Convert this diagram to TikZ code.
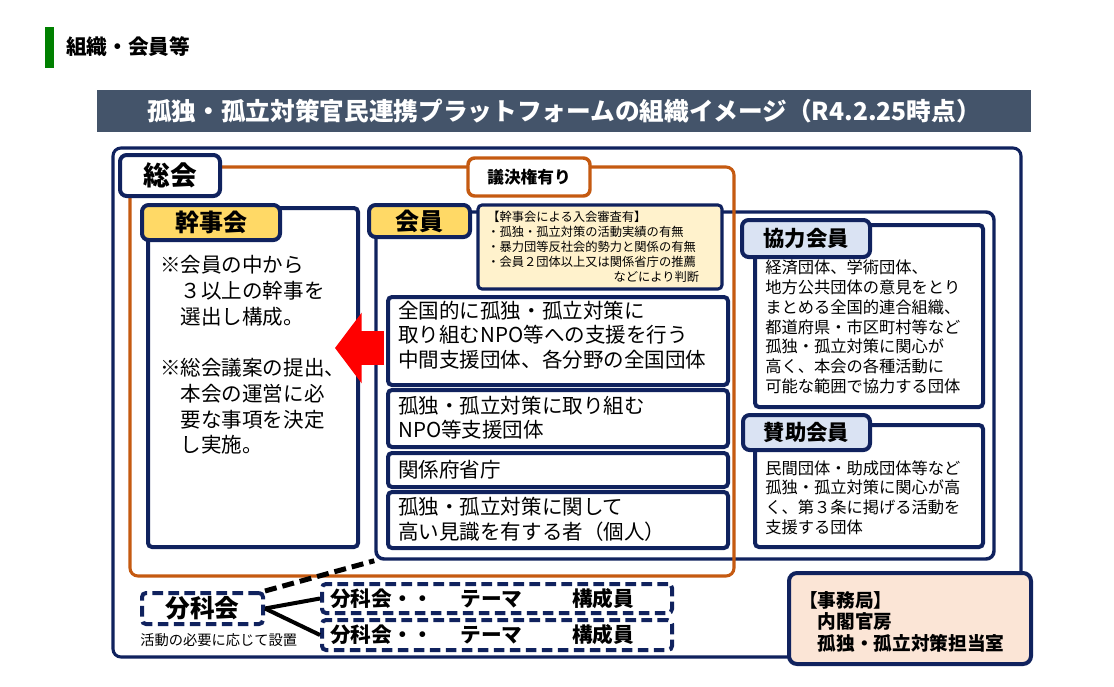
\documentclass[tikz,border=0pt]{standalone}
\usepackage{fontspec}
\setmainfont{Noto Sans CJK JP}
\usetikzlibrary{arrows.meta,positioning,fit}
\definecolor{orgNavy}{RGB}{16,34,94}
\definecolor{orgOrange}{RGB}{197,90,17}
\definecolor{orgYellow}{RGB}{255,217,102}
\definecolor{orgCream}{RGB}{255,242,204}
\definecolor{orgBlue}{RGB}{218,227,243}
\definecolor{orgPeach}{RGB}{251,229,214}
\definecolor{orgSlate}{RGB}{68,84,106}
\definecolor{orgGreen}{RGB}{0,128,0}
\definecolor{orgRed}{RGB}{255,0,0}
\newcommand{\fsz}[2]{\fontsize{#1pt}{#2pt}\selectfont}
\tikzset{
  framebox/.style={
    rectangle, rounded corners=6pt, draw=orgNavy, line width=2.3pt, inner sep=0pt},
  votebox/.style={framebox, draw=orgOrange},
  panel/.style={
    rectangle, rounded corners=3pt, draw=orgNavy, line width=3pt,
    fill=white, inner sep=0pt},
  labelbox/.style={panel, rounded corners=5pt},
  yellowtag/.style={labelbox, fill=orgYellow},
  bluetag/.style={labelbox, fill=orgBlue},
  tagtext/.style={inner sep=0pt, font=\bfseries\fsz{18}{22}},
  notebox/.style={panel, line width=2.3pt, fill=orgCream},
  dashbox/.style={panel, dash pattern=on 8pt off 4pt},
  bodytext/.style={anchor=west, align=left, inner sep=0pt, font=\fsz{15.4}{18.4}},
  sidetext/.style={bodytext, font=\fsz{12.2}{14.8}},
  notetext/.style={bodytext, font=\fsz{9.2}{11.25}},
  themetext/.style={bodytext, font=\bfseries\fsz{15.5}{18}},
  subline/.style={line width=3pt, draw=black},
  dashlink/.style={line width=3.75pt, draw=black, dash pattern=on 9pt off 4.5pt},
  bigarrow/.style={-{Triangle[length=20pt, width=52pt]}, line width=26pt, draw=orgRed}
}
\begin{document}
\begin{tikzpicture}[x=0.75pt, y=-0.75pt]
  \path[use as bounding box, fill=white] (0,0) rectangle (1114,686);

    % ---- heading -----------------------------------------------
    \node[fill=orgGreen, inner sep=0pt, fit={(45,27) (54,68)}] (hdbar) {};
    \node[anchor=west, inner sep=0pt, font=\bfseries\fsz{15.5}{18}] (hdtext) at (66,47) {組織・会員等};
    \node[fill=orgSlate, inner sep=0pt, fit={(97,90) (1031,132)}] (title) {};
    \node[tagtext, text=white, font=\bfseries\fsz{18.5}{22}] (titletxt) at (title)
          {孤独・孤立対策官民連携プラットフォームの組織イメージ（R4.2.25時点）};

    % ---- frames ------------------------------------------------
    \node[framebox, fit={(113,148) (1021,657)}] (frame) {};
    \node[framebox, line width=2.6pt, fit={(376,212) (994,559)}] (kaiin) {};
    \node[votebox, fit={(130,167) (734,576)}] (vote) {};
    \node[labelbox, fit={(120,155) (220,196)}] (sokai) {};
    \node[tagtext, font=\bfseries\fsz{20}{24}] (sokaitxt) at (sokai) {総会};
    \node[labelbox, draw=orgOrange, line width=2.6pt, fit={(468,158) (590,196)}] (giketsu) {};
    \node[tagtext, font=\bfseries\fsz{12.5}{15}] (giketsutxt) at (giketsu) {議決権有り};

    % ---- kanjikai (left) ---------------------------------------
    \node[panel, fit={(148,208) (358,547)}] (kanji) {};
    \node[yellowtag, fit={(142,205) (280,240)}] (kanjilbl) {};
    \node[tagtext] (kanjilbltxt) at (kanjilbl) {幹事会};
    \node[bodytext, font=\fsz{15.4}{19.3}] (kanjitxt) at (160,355)
      {※会員の中から\\\hspace*{1em}３以上の幹事を\\\hspace*{1em}選出し構成。\\[19.3pt]%
       ※総会議案の提出、\\\hspace*{1em}本会の運営に必\\\hspace*{1em}要な事項を決定\\\hspace*{1em}し実施。};

    % ---- kaiin (middle) ----------------------------------------
    \node[panel, fit={(388,297) (728,385)}] (mem1) {};
    \node[panel, fit={(388,390) (728,447)}] (mem2) {};
    \node[panel, fit={(388,453) (728,487)}] (mem3) {};
    \node[panel, fit={(388,492) (728,548)}] (mem4) {};
    \node[bodytext] (mem1txt) at (398,335)
      {全国的に孤独・孤立対策に\\取り組むNPO等への支援を行う\\中間支援団体、各分野の全国団体};
    \node[bodytext] (mem2txt) at (398,417.5) {孤独・孤立対策に取り組む\\NPO等支援団体};
    \node[bodytext] (mem3txt) at (398,470) {関係府省庁};
    \node[bodytext] (mem4txt) at (398,519.5) {孤独・孤立対策に関して\\高い見識を有する者（個人）};

    \coordinate (arrowtip) at (335,348);
    \draw[bigarrow, shorten <=1.5pt] ([yshift=-5.25pt]mem1.west) -- (arrowtip);

    \node[yellowtag, fit={(369,205) (470,237)}] (kaiinlbl) {};
    \node[tagtext] (kaiinlbltxt) at (kaiinlbl) {会員};
    \node[notebox, fit={(478,205) (722,289)}] (kaiinnote) {};
    \node[notetext] (notetxt) at (487,247)
      {【幹事会による入会審査有】\\・孤独・孤立対策の活動実績の有無\\・暴力団等反社会的勢力と関係の有無\\%
       ・会員２団体以上又は関係省庁の推薦\\\hspace*{10.3em}などにより判断};

    % ---- kyoryoku / sanjo (right) ------------------------------
    \node[panel, fit={(755,225) (983,407)}] (kyoryoku) {};
    \node[bluetag, fit={(742,220) (870,257)}] (kyoryokulbl) {};
    \node[tagtext, font=\bfseries\fsz{16}{20}] (kyoryokulbltxt) at (kyoryokulbl) {協力会員};
    \node[sidetext] (kyoryokutxt) at (765,327)
      {経済団体、学術団体、\\地方公共団体の意見をとり\\まとめる全国的連合組織、\\都道府県・市区町村等など\\%
       孤独・孤立対策に関心が\\高く、本会の各種活動に\\可能な範囲で協力する団体};

    \node[panel, fit={(755,425) (983,547)}] (sanjo) {};
    \node[bluetag, fit={(743,415) (870,450)}] (sanjolbl) {};
    \node[tagtext, font=\bfseries\fsz{16}{20}] (sanjolbltxt) at (sanjolbl) {賛助会員};
    \node[sidetext] (sanjotxt) at (765,497.5)
      {民間団体・助成団体等など\\孤独・孤立対策に関心が高\\く、第３条に掲げる活動を\\支援する団体};

    % ---- bunkakai (bottom) -------------------------------------
    \node[dashbox, fit={(142,593) (263,624)}] (bunka) {};
    \node[tagtext, font=\bfseries\fsz{18.5}{22}] (bunkatxt) at (bunka) {分科会};
    \node[anchor=west, inner sep=0pt, font=\fsz{10.7}{13}] (bunkanote) at (140,640) {活動の必要に応じて設置};
    \node[dashbox, fit={(322,584) (672,613)}] (thm1) {};
    \node[dashbox, fit={(322,620) (672,650)}] (thm2) {};
    \node[themetext] (thm1txt) at ([xshift=7.5pt]thm1.west) {分科会・・\hspace{1.3em}テーマ\hspace{2.4em}構成員};
    \node[themetext] (thm2txt) at ([xshift=7.5pt]thm2.west) {分科会・・\hspace{1.3em}テーマ\hspace{2.4em}構成員};

    \draw[subline] (bunka.east) -- (thm1.west);
    \draw[subline] (bunka.east) -- (thm2.west);
    \draw[dashlink] (bunka.north east) -- (kaiin.south west);

    % ---- secretariat -------------------------------------------
    \node[panel, fill=orgPeach, rounded corners=6pt, fit={(789,573) (1031,664)}] (jimu) {};
    \node[bodytext, font=\bfseries\fsz{14}{16.1}] (jimutxt) at (799,621.5)
      {【事務局】\\\hspace*{1em}内閣官房\\\hspace*{1em}孤独・孤立対策担当室};

  \end{tikzpicture}
\end{document}
